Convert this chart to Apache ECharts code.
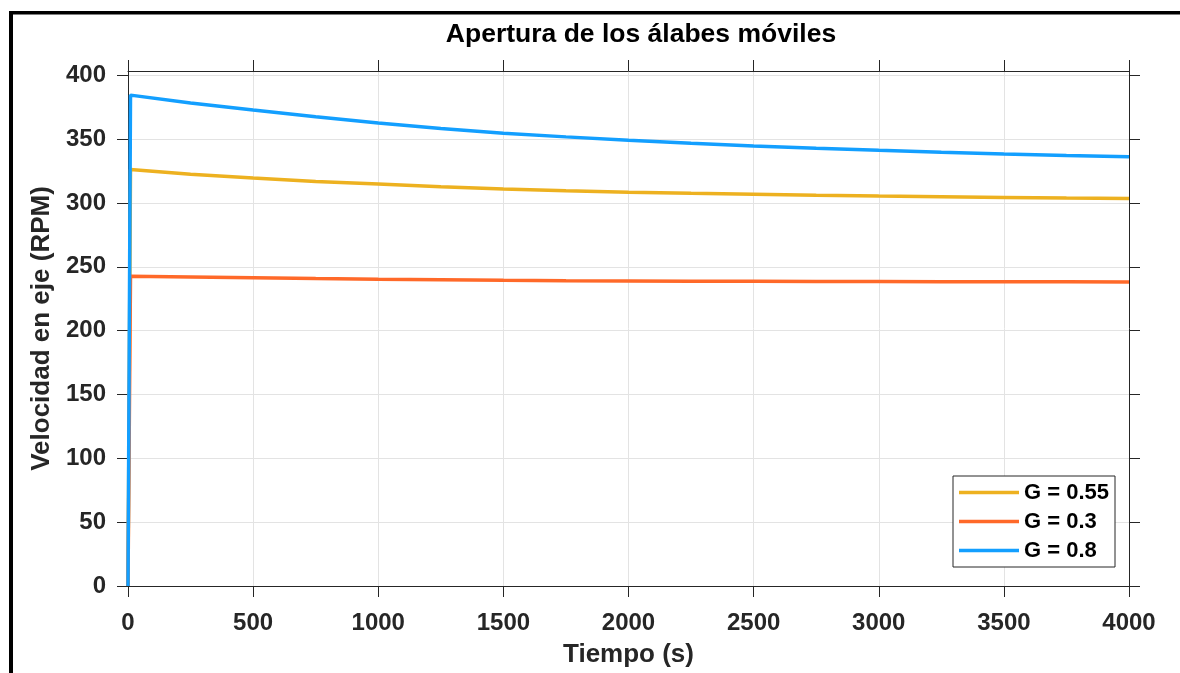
<!DOCTYPE html>
<html>
<head>
<meta charset="utf-8">
<script src="https://cdn.jsdelivr.net/npm/echarts@6/dist/echarts.min.js"></script>
<style>html,body{margin:0;padding:0;background:#fff;}#c{width:1180px;height:673px;}</style>
</head>
<body>
<div id="c"></div>
<script>
const titleText = 'Apertura de los álabes móviles';
const xName = 'Tiempo (s)';
const yName = 'Velocidad en eje (RPM)';
const seriesNames = ['G = 0.55', 'G = 0.3', 'G = 0.8'];
const seriesColors = ['#EDB120', '#FF6929', '#139FFF'];
const time = [0, 10, 250, 500, 750, 1000, 1250, 1500, 1750, 2000, 2250, 2500, 2750, 3000, 3250, 3500, 3750, 4000];
const g055 = [0, 326.3, 322.6, 319.5, 316.9, 314.8, 312.7, 311.0, 309.6, 308.5, 307.6, 306.8, 306.0, 305.4, 304.9, 304.4, 303.9, 303.5];
const g03  = [0, 242.6, 242.0, 241.4, 240.8, 240.3, 239.9, 239.5, 239.2, 239.0, 238.8, 238.7, 238.6, 238.5, 238.4, 238.3, 238.25, 238.2];
const g08  = [0, 384.5, 378.3, 372.8, 367.5, 362.6, 358.4, 354.7, 351.8, 349.2, 346.8, 344.7, 342.9, 341.3, 339.8, 338.4, 337.2, 336.2];
const xTicks = [0, 500, 1000, 1500, 2000, 2500, 3000, 3500, 4000];
const yTicks = [0, 50, 100, 150, 200, 250, 300, 350, 400];

const seriesValues = [g055, g03, g08];
const AX = '#262626';
const FONT = 'Liberation Sans';

function xAxisCfg(pos, showLabel) {
  return {
    type: 'value', position: pos, min: 0, max: 4000, interval: 500,
    name: showLabel ? xName : '', nameLocation: 'middle', nameGap: 56,
    nameTextStyle: { fontFamily: FONT, fontWeight: 'bold', fontSize: 26, color: AX },
    axisLine: { show: true, onZero: false, lineStyle: { color: AX, width: 1 } },
    axisTick: { show: true, length: 11, inside: false, customValues: xTicks, lineStyle: { color: AX, width: 1 } },
    axisLabel: { show: showLabel, margin: 25, customValues: xTicks, formatter: v => String(v),
      fontFamily: FONT, fontWeight: 'bold', fontSize: 24, color: AX },
    splitLine: { show: showLabel, lineStyle: { color: '#e3e3e3', width: 1 } }
  };
}
function yAxisCfg(pos, showLabel) {
  return {
    type: 'value', position: pos, min: 0, max: 403.4, interval: 50,
    name: showLabel ? yName : '', nameLocation: 'middle', nameGap: 68, nameRotate: 90,
    nameTextStyle: { fontFamily: FONT, fontWeight: 'bold', fontSize: 26, color: AX },
    axisLine: { show: true, onZero: false, lineStyle: { color: AX, width: 1 } },
    axisTick: { show: true, length: 11, inside: false, customValues: yTicks, lineStyle: { color: AX, width: 1 } },
    axisLabel: { show: showLabel, margin: 22, customValues: yTicks, formatter: v => String(v),
      fontFamily: FONT, fontWeight: 'bold', fontSize: 24, color: AX },
    splitLine: { show: showLabel, lineStyle: { color: '#e3e3e3', width: 1 } }
  };
}

const chart = echarts.init(document.getElementById('c'), null, { renderer: 'canvas' });
chart.setOption({
  animation: false,
  backgroundColor: '#ffffff',
  title: {
    text: titleText, left: 636, top: 16, textAlign: 'center',
    textStyle: { fontFamily: FONT, fontWeight: 'bold', fontSize: 26.5, color: '#000' }
  },
  grid: { left: 128, right: 51, top: 71, bottom: 87, containLabel: false },
  xAxis: [xAxisCfg('bottom', true), xAxisCfg('top', false)],
  yAxis: [yAxisCfg('left', true), yAxisCfg('right', false)],
  legend: {
    orient: 'vertical', left: 953, top: 476,
    data: seriesNames,
    icon: 'rect', itemWidth: 60, itemHeight: 3.5, itemGap: 0,
    padding: [2, 6, 2, 6],
    backgroundColor: '#fff', borderColor: AX, borderWidth: 1,
    textStyle: { fontFamily: FONT, fontWeight: 'bold', fontSize: 22, color: '#000', lineHeight: 29 }
  },
  graphic: [
    { type: 'rect', shape: { x: 9, y: 11, width: 1180, height: 3.5 }, style: { fill: '#000' }, silent: true },
    { type: 'rect', shape: { x: 9, y: 11, width: 4, height: 680 }, style: { fill: '#000' }, silent: true }
  ],
  series: seriesNames.map((n, i) => ({
    name: n, type: 'line', xAxisIndex: 0, yAxisIndex: 0,
    data: time.map((t, k) => [t, seriesValues[i][k]]),
    showSymbol: false, symbol: 'none',
    lineStyle: { color: seriesColors[i], width: 3.5 },
    itemStyle: { color: seriesColors[i] }
  }))
});
</script>
</body>
</html>
